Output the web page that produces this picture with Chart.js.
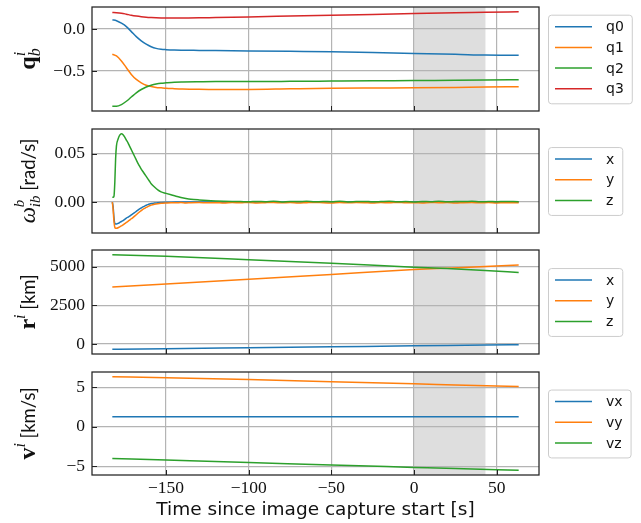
<!DOCTYPE html>
<html>
<head>
<meta charset="utf-8">
<script src="https://cdn.jsdelivr.net/npm/chart.js@4.4.0/dist/chart.umd.min.js"></script>
<style>
    html, body { margin: 0; padding: 0; background: #fff; }
    #wrap { position: relative; width: 641px; height: 523px; }
    canvas { position: absolute; left: 0; }
</style>
</head>
<body>
<div id="wrap">
    <canvas id="pQuat" width="641" height="120" style="top:0px"></canvas>
    <canvas id="pRate" width="641" height="122" style="top:120px"></canvas>
    <canvas id="pPos" width="641" height="120" style="top:242px"></canvas>
    <canvas id="pVel" width="641" height="161" style="top:362px"></canvas>
</div>
<script>
// 시간축 눈금 / 촬영 구간
const xTicks = [-150, -100, -50, 0, 50];
const captureWindow = [0, 43.2];

// 자세 쿼터니언
const tQuat = [-182.5, -180, -177, -174, -171, -168, -165, -162, -159, -156, -153, -150,
               -145, -140, -130, -120, -100, -75, -50, -25, 0, 25, 43, 63.3];
const q0 = [0.11, 0.10, 0.07, 0.03, -0.03, -0.09, -0.14, -0.18, -0.21, -0.23, -0.24, -0.245,
            -0.25, -0.252, -0.254, -0.256, -0.26, -0.265, -0.27, -0.28, -0.29, -0.30, -0.31, -0.313];
const q1 = [-0.30, -0.32, -0.38, -0.46, -0.54, -0.60, -0.64, -0.67, -0.685, -0.695, -0.70, -0.705,
            -0.71, -0.714, -0.718, -0.72, -0.72, -0.712, -0.705, -0.702, -0.70, -0.695, -0.69, -0.687];
const q2 = [-0.92, -0.92, -0.90, -0.86, -0.81, -0.76, -0.72, -0.69, -0.67, -0.655, -0.645, -0.64,
            -0.633, -0.63, -0.627, -0.625, -0.625, -0.623, -0.62, -0.617, -0.613, -0.61, -0.607, -0.603];
const q3 = [0.198, 0.196, 0.19, 0.178, 0.165, 0.155, 0.147, 0.141, 0.137, 0.134, 0.132, 0.131,
            0.131, 0.132, 0.134, 0.138, 0.145, 0.155, 0.165, 0.175, 0.185, 0.195, 0.2, 0.207];
const quatTicks = [-0.5, 0.0];

// 각속도 [rad/s]
const tRate = [-182.5, -182, -181.5, -181, -180.5, -180,
               -179, -178, -177, -176, -175, -174, -173, -172, -171, -170, -169, -168, -167, -166, -165,
               -164, -163, -162, -161, -160, -159,
               -157, -155, -153,
               -150, -147, -144, -141, -138, -135,
               -130, -125, -120, -115, -110, -105, -100, -95, -90, -85, -80, -75, -70, -65, -60, -55,
               -50, -45, -40, -35, -30, -25, -20, -15, -10, -5, 0, 5, 10, 15, 20, 25, 30, 35, 40,
               45, 50, 55, 60,
               63.3];
const rateX = [0, -0.005, -0.016, -0.022, -0.0225, -0.0225,
               -0.022, -0.021, -0.02, -0.019, -0.0178, -0.0165, -0.0155, -0.0145, -0.0132, -0.012, -0.0108, -0.0095, -0.0082, -0.007, -0.006,
               -0.005, -0.0041, -0.0033, -0.0026, -0.002, -0.0015,
               -0.001, -0.0006, -0.0004,
               -0.0002, -0.0001, 0, 0.0001, 0, 0,
               0, 0.0001, 0, -0.0001, 0.0001, 0, -0.0001, 0, 0.0001, 0, -0.0001, 0, 0.0001, 0, 0, -0.0001,
               0.0001, 0, 0, -0.0001, 0, 0.0001, 0, -0.0001, 0, 0.0001, 0, 0, -0.0001, 0.0001, 0, 0, -0.0001,
               0, 0.0001, 0, -0.0001, 0, 0.0001,
               0];
const rateY = [0, -0.008, -0.02, -0.026, -0.027, -0.027,
               -0.0265, -0.0255, -0.0245, -0.0235, -0.0222, -0.021, -0.0198, -0.0185, -0.0172, -0.016, -0.0145, -0.013, -0.0115, -0.010, -0.0088,
               -0.0075, -0.0065, -0.0055, -0.0046, -0.0038, -0.0031,
               -0.0022, -0.0016, -0.0012,
               -0.0009, -0.0007, -0.0008, -0.0005, -0.0009, -0.0006,
               -0.0004, -0.0008, -0.0006, -0.001, -0.0005, -0.0007, -0.0003, -0.0009, -0.0006, -0.0004, -0.0008, -0.0005, -0.001, -0.0006, -0.0003, -0.0007,
               -0.0009, -0.0005, -0.0008, -0.0004, -0.0006, -0.001, -0.0005, -0.0007, -0.0003, -0.0008, -0.0006, -0.0009, -0.0004, -0.0007, -0.0005, -0.001, -0.0006,
               -0.0004, -0.0008, -0.0005, -0.0009, -0.0006, -0.0007,
               -0.0006];
const rateZ = [0.005, 0.005, 0.006, 0.02, 0.045, 0.058,
               0.065, 0.069, 0.0705, 0.0695, 0.067, 0.064, 0.061, 0.0575, 0.054, 0.0505, 0.047, 0.0435, 0.04, 0.037, 0.034,
               0.0315, 0.029, 0.0265, 0.024, 0.0215, 0.019,
               0.0155, 0.0125, 0.0105,
               0.009, 0.0075, 0.006, 0.0048, 0.0038, 0.003,
               0.0022, 0.0016, 0.0012, 0.0009, 0.0007, 0.0006, 0.0003, 0.0007, 0.0004, 0.0008, 0.0002, 0.0006, 0.0005, 0.0009, 0.0003, 0.0006,
               0.0004, 0.0008, 0.0002, 0.0005, 0.0007, 0.0003, 0.0006, 0.0009, 0.0004, 0.0005, 0.0002, 0.0007, 0.0004, 0.0008, 0.0003, 0.0006, 0.0005,
               0.0009, 0.0003, 0.0006, 0.0004, 0.0007, 0.0005,
               0.0004];
const rateTicks = [0.0, 0.05];

// 위치 [km]
const tPos = [-182.5, -150, -100, -50, 0, 20, 43, 63.3];
const posX = [-347, -307, -246, -185, -124, -100, -72, -46];
const posY = [3692, 3888, 4196, 4510, 4823, 4915, 5020, 5111];
const posZ = [5785, 5680, 5458, 5225, 4980, 4890, 4760, 4633];
const posTicks = [0, 2500, 5000];

// 속도 [km/s]
const tVel = [-182.5, -150, -100, -50, 0, 25, 63.3];
const velX = [1.27, 1.27, 1.27, 1.27, 1.27, 1.27, 1.27];
const velY = [6.35, 6.22, 5.98, 5.72, 5.45, 5.31, 5.1];
const velZ = [-3.99, -4.19, -4.5, -4.83, -5.13, -5.28, -5.5];
const velTicks = [-5, 0, 5];

const C_BLUE = '#1f77b4', C_ORANGE = '#ff7f0e', C_GREEN = '#2ca02c', C_RED = '#d62728';
const TICK_FONT = { family: '"Liberation Serif", serif', size: 17.5 };
const GRID_COLOR = '#b4b4b4';

// matplotlib 기본 여백 (5%)
function padRange(arrays) {
    const all = [].concat(...arrays);
    const lo = Math.min(...all), hi = Math.max(...all);
    const m = (hi - lo) * 0.05;
    return [lo - m, hi + m];
}
const xRange = padRange([tQuat]);

function pairs(ts, vs) {
    return ts.map((t, i) => ({ x: t, y: vs[i] }));
}

function fmtTick(v, digits) {
    const s = Math.abs(v).toFixed(digits);
    return v < 0 ? '\u2212' + s : s;
}

// 회전된 y축 라벨 (첨자 포함)
function drawYLabel(ctx, parts, cx, cy) {
    ctx.save();
    ctx.translate(cx, cy);
    ctx.rotate(-Math.PI / 2);
    ctx.textBaseline = 'alphabetic';
    ctx.textAlign = 'left';
    let total = 0;
    parts.forEach(p => {
        ctx.font = p.font;
        if (!p.noAdvance) total += ctx.measureText(p.text).width;
    });
    let x = -total / 2;
    ctx.fillStyle = '#111';
    parts.forEach(p => {
        ctx.font = p.font;
        ctx.fillText(p.text, x, p.dy || 0);
        if (!p.noAdvance) x += ctx.measureText(p.text).width;
    });
    ctx.restore();
}

const deco = {
    id: 'deco',
    beforeDraw(chart) {
        const { ctx, chartArea: a, scales: { x } } = chart;
        const x0 = x.getPixelForValue(captureWindow[0]);
        const x1 = x.getPixelForValue(captureWindow[1]);
        ctx.save();
        ctx.fillStyle = '#dedede';
        ctx.fillRect(x0, a.top, x1 - x0, a.bottom - a.top);
        ctx.restore();
    },
    afterDraw(chart, args, opts) {
        const { ctx, chartArea: a, scales: { x, y } } = chart;
        ctx.save();
        // 안쪽 눈금
        ctx.strokeStyle = '#222';
        ctx.lineWidth = 1;
        ctx.beginPath();
        x.ticks.forEach(t => {
            const px = Math.round(x.getPixelForValue(t.value)) + 0.5;
            ctx.moveTo(px, a.bottom);
            ctx.lineTo(px, a.bottom - 5);
        });
        y.ticks.forEach(t => {
            const py = Math.round(y.getPixelForValue(t.value)) + 0.5;
            ctx.moveTo(a.left, py);
            ctx.lineTo(a.left + 5, py);
        });
        ctx.stroke();
        // 테두리
        ctx.lineWidth = 1.25;
        ctx.strokeStyle = '#222';
        ctx.strokeRect(a.left, a.top, a.right - a.left, a.bottom - a.top);

        // 범례
        const items = chart.data.datasets;
        const rowH = 20.7;
        const h = rowH * (items.length - 1) + 26.5;
        const top = (a.top + a.bottom) / 2 - h / 2;
        const left = a.right + 9;
        ctx.font = '14px "DejaVu Sans"';
        const tw = Math.max(...items.map(d => ctx.measureText(d.label).width));
        const w = 58 + tw + 8;
        ctx.beginPath();
        ctx.roundRect(left + 0.5, top + 0.5, w, h, 3);
        ctx.fillStyle = 'rgba(255,255,255,0.8)';
        ctx.fill();
        ctx.strokeStyle = '#cccccc';
        ctx.lineWidth = 1;
        ctx.stroke();
        items.forEach((d, i) => {
            const yy = top + 12 + i * rowH;
            ctx.beginPath();
            ctx.moveTo(left + 7, yy);
            ctx.lineTo(left + 44, yy);
            ctx.strokeStyle = d.borderColor;
            ctx.lineWidth = 1.5;
            ctx.stroke();
            ctx.fillStyle = '#111';
            ctx.textBaseline = 'middle';
            ctx.textAlign = 'left';
            ctx.fillText(d.label, left + 58, yy + 1);
        });
        ctx.restore();

        if (opts.ylabel) drawYLabel(ctx, opts.ylabel, 35, (a.top + a.bottom) / 2);
    }
};

function makePanel(id, cfg) {
    const el = document.getElementById(id);
    return new Chart(el, {
        type: 'line',
        data: {
            datasets: cfg.series.map((s, i) => ({
                label: s.label,
                data: pairs(cfg.t, s.values),
                borderColor: s.color,
                borderWidth: 1.5,
                pointRadius: 0,
                fill: false,
                cubicInterpolationMode: 'monotone',
                order: -i
            }))
        },
        options: {
            responsive: false,
            animation: false,
            devicePixelRatio: 1,
            layout: { padding: { left: 0, right: 102, top: cfg.padTop, bottom: 0 } },
            plugins: {
                legend: { display: false },
                tooltip: { enabled: false },
                deco: { ylabel: cfg.ylabel }
            },
            scales: {
                x: {
                    type: 'linear',
                    min: xRange[0],
                    max: xRange[1],
                    afterBuildTicks: s => { s.ticks = xTicks.map(v => ({ value: v })); },
                    afterFit: s => { s.height = cfg.xHeight; s.paddingLeft = 0; s.paddingRight = 0; },
                    grid: { color: GRID_COLOR, lineWidth: 1.2, drawTicks: false },
                    border: { display: false },
                    ticks: {
                        display: !!cfg.xLabels,
                        autoSkip: false,
                        maxRotation: 0,
                        padding: 3,
                        font: TICK_FONT,
                        color: '#111',
                        callback: v => fmtTick(v, 0)
                    },
                    title: {
                        display: !!cfg.xLabels,
                        text: 'Time since image capture start [s]',
                        font: { family: '"DejaVu Sans"', size: 18.5 },
                        color: '#111',
                        padding: { top: 0, bottom: 2 }
                    }
                },
                y: {
                    type: 'linear',
                    min: cfg.yRange[0],
                    max: cfg.yRange[1],
                    afterBuildTicks: s => { s.ticks = cfg.yTicks.map(v => ({ value: v })); },
                    afterFit: s => { s.width = 92; s.paddingTop = 0; s.paddingBottom = 0; },
                    grid: { color: GRID_COLOR, lineWidth: 1.2, drawTicks: false },
                    border: { display: false },
                    ticks: {
                        padding: 7,
                        font: TICK_FONT,
                        color: '#111',
                        callback: v => fmtTick(v, cfg.digits)
                    }
                }
            }
        },
        plugins: [deco]
    });
}

const SERIF = '"Liberation Serif"';
const SANS_UNIT = '18.5px Lato';

makePanel('pQuat', {
    t: tQuat, padTop: 7, xHeight: 9, yTicks: quatTicks, digits: 1,
    yRange: padRange([q0, q1, q2, q3]),
    series: [
        { label: 'q0', values: q0, color: C_BLUE },
        { label: 'q1', values: q1, color: C_ORANGE },
        { label: 'q2', values: q2, color: C_GREEN },
        { label: 'q3', values: q3, color: C_RED }
    ],
    ylabel: [
        { text: 'q', font: 'bold 24px ' + SERIF },
        { text: 'i', font: 'italic 16px ' + SERIF, dy: -10, noAdvance: true },
        { text: 'b', font: 'italic 16px ' + SERIF, dy: 5 }
    ]
});

makePanel('pRate', {
    t: tRate, padTop: 9, xHeight: 9, yTicks: rateTicks, digits: 2,
    yRange: padRange([rateX, rateY, rateZ]),
    series: [
        { label: 'x', values: rateX, color: C_BLUE },
        { label: 'y', values: rateY, color: C_ORANGE },
        { label: 'z', values: rateZ, color: C_GREEN }
    ],
    ylabel: [
        { text: '\u03c9', font: 'italic 23px ' + SERIF },
        { text: 'b', font: 'italic 15px ' + SERIF, dy: -11, noAdvance: true },
        { text: 'ib', font: 'italic 15px ' + SERIF, dy: 5 },
        { text: ' [rad/s]', font: SANS_UNIT }
    ]
});

makePanel('pPos', {
    t: tPos, padTop: 8, xHeight: 8, yTicks: posTicks, digits: 0,
    yRange: padRange([posX, posY, posZ]),
    series: [
        { label: 'x', values: posX, color: C_BLUE },
        { label: 'y', values: posY, color: C_ORANGE },
        { label: 'z', values: posZ, color: C_GREEN }
    ],
    ylabel: [
        { text: 'r', font: 'bold 24px ' + SERIF },
        { text: 'i', font: 'italic 16px ' + SERIF, dy: -10 },
        { text: ' [km]', font: SANS_UNIT }
    ]
});

makePanel('pVel', {
    t: tVel, padTop: 10, xHeight: 48, yTicks: velTicks, digits: 0, xLabels: true,
    yRange: padRange([velX, velY, velZ]),
    series: [
        { label: 'vx', values: velX, color: C_BLUE },
        { label: 'vy', values: velY, color: C_ORANGE },
        { label: 'vz', values: velZ, color: C_GREEN }
    ],
    ylabel: [
        { text: 'v', font: 'bold 24px ' + SERIF },
        { text: 'i', font: 'italic 16px ' + SERIF, dy: -10 },
        { text: ' [km/s]', font: SANS_UNIT }
    ]
});
</script>
</body>
</html>
